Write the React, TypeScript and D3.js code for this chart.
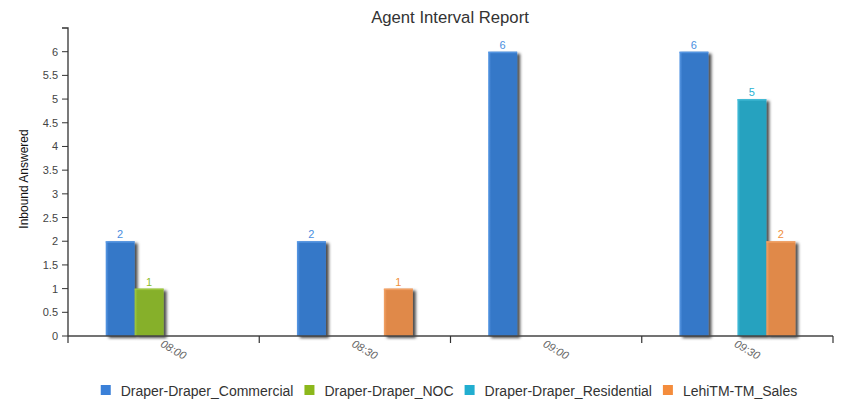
import React, { useMemo } from "react";
import * as d3 from "d3";

const categories = ["08:00", "08:30", "09:00", "09:30"];
const seriesNames = [
  "Draper-Draper_Commercial",
  "Draper-Draper_NOC",
  "Draper-Draper_Residential",
  "LehiTM-TM_Sales",
];
// one value per category; null = no bar
const commercial = [2, 2, 6, 6];
const noc = [1, null, null, null];
const residential = [null, null, null, 5];
const sales = [null, 1, null, 2];
const seriesValues = [commercial, noc, residential, sales];

const barColors = ["#3678c8", "#86b02c", "#25a2bf", "#e0894a"];
const lightColors = ["#5a9ae6", "#a0cc40", "#48c0dc", "#f4a468"];
const labelColors = ["#4a8ee0", "#8cbc2c", "#2ab2d2", "#f0903c"];
const legendColors = ["#3a80d8", "#8cb81c", "#22aed0", "#f48c3c"];
const yTicks = d3.range(0, 6.01, 0.5);

const W = 841;
const H = 400;
const FONT = "'Liberation Sans', Arial, sans-serif";
const LEGEND_FONT = 14;

export default function App() {
  const left = 68;
  const right = 833;
  const top = 28;
  const bottom = 336;

  const x = d3.scaleBand<string>().domain(categories).range([left, right]).paddingInner(0).paddingOuter(0);
  const xs = d3.scaleBand<string>().domain(seriesNames).range([0, x.bandwidth()]).paddingInner(0).paddingOuter(1.3);
  const y = d3.scaleLinear().domain([0, 6.5]).range([bottom, top]);

  const legendLayout = useMemo(() => {
    const canvas = document.createElement("canvas");
    const ctx = canvas.getContext("2d")!;
    ctx.font = `${LEGEND_FONT}px ${FONT}`;
    const widths = seriesNames.map((s) => ctx.measureText(s).width);
    const items = widths.map((w) => 10 + 10 + w);
    const total = d3.sum(items) + 11 * (items.length - 1);
    let cx = 449 - total / 2;
    return items.map((w) => {
      const p = cx;
      cx += w + 11;
      return p;
    });
  }, []);

  const boundaries = categories.map((c) => x(c)!).concat([right]);

  return (
    <svg width={W} height={H} style={{ position: "absolute", left: 0, top: 0, fontFamily: FONT }}>
      <defs>
        {barColors.map((c, i) => (
          <linearGradient key={i} id={`grad${i}`} x1="0" x2="1" y1="0" y2="0">
            <stop offset="0" stopColor={lightColors[i]} />
            <stop offset="0.1" stopColor={c} />
            <stop offset="1" stopColor={c} />
          </linearGradient>
        ))}
        <filter id="shadow" x="-30%" y="-10%" width="160%" height="130%">
          <feDropShadow dx="3" dy="2" stdDeviation="1.8" floodColor="#000" floodOpacity="0.7" />
        </filter>
      </defs>

      <text x={450} y={23} textAnchor="middle" fontSize={16.7} fill="#333">
        Agent Interval Report
      </text>

      {/* bars */}
      {seriesValues.map((vals, si) =>
        vals.map((v, ci) => {
          if (v == null) return null;
          const bx = x(categories[ci])! + xs(seriesNames[si])!;
          const bw = xs.bandwidth();
          return (
            <g key={`${si}-${ci}`}>
              <rect x={bx} y={y(v)} width={bw} height={y(0) - y(v)} fill={`url(#grad${si})`} filter="url(#shadow)" />
              <rect x={bx} y={y(v)} width={bw} height={1.5} fill={lightColors[si]} opacity={0.8} />
              <text x={bx + bw / 2} y={y(v) - 3} textAnchor="middle" fontSize={11} fill={labelColors[si]}>
                {v}
              </text>
            </g>
          );
        })
      )}

      {/* y axis */}
      <path d={`M${left - 6},${top}H${left}V${bottom}`} fill="none" stroke="#333" strokeWidth={1.3} />
      {yTicks.map((t) => (
        <g key={t}>
          <line x1={left - 6} x2={left} y1={y(t)} y2={y(t)} stroke="#333" strokeWidth={1} />
          <text x={left - 10} y={y(t) + 4} textAnchor="end" fontSize={11} fill="#444">
            {d3.format("~g")(t)}
          </text>
        </g>
      ))}
      <text
        transform={`translate(28,${(top + bottom) / 2 - 3}) rotate(-90)`}
        textAnchor="middle"
        fontSize={12}
        fill="#111"
      >
        Inbound Answered
      </text>

      {/* x axis */}
      <line x1={left} x2={right} y1={bottom} y2={bottom} stroke="#444" strokeWidth={1.5} />
      {boundaries.map((b, i) => (
        <line key={i} x1={b} x2={b} y1={bottom} y2={bottom + 7} stroke="#333" strokeWidth={1.2} />
      ))}
      {categories.map((c) => (
        <text
          key={c}
          transform={`translate(${x(c)! + x.bandwidth() / 2 - 4},${bottom + 10}) rotate(30)`}
          fontSize={11}
          fontStyle="italic"
          fill="#666"
        >
          {c}
        </text>
      ))}

      {/* legend */}
      {seriesNames.map((s, i) => (
        <g key={s} transform={`translate(${legendLayout[i]},385)`}>
          <rect x={0} y={0} width={10} height={10} fill={legendColors[i]} />
          <text x={20} y={10.5} fontSize={LEGEND_FONT} fill="#333">
            {s}
          </text>
        </g>
      ))}
    </svg>
  );
}
